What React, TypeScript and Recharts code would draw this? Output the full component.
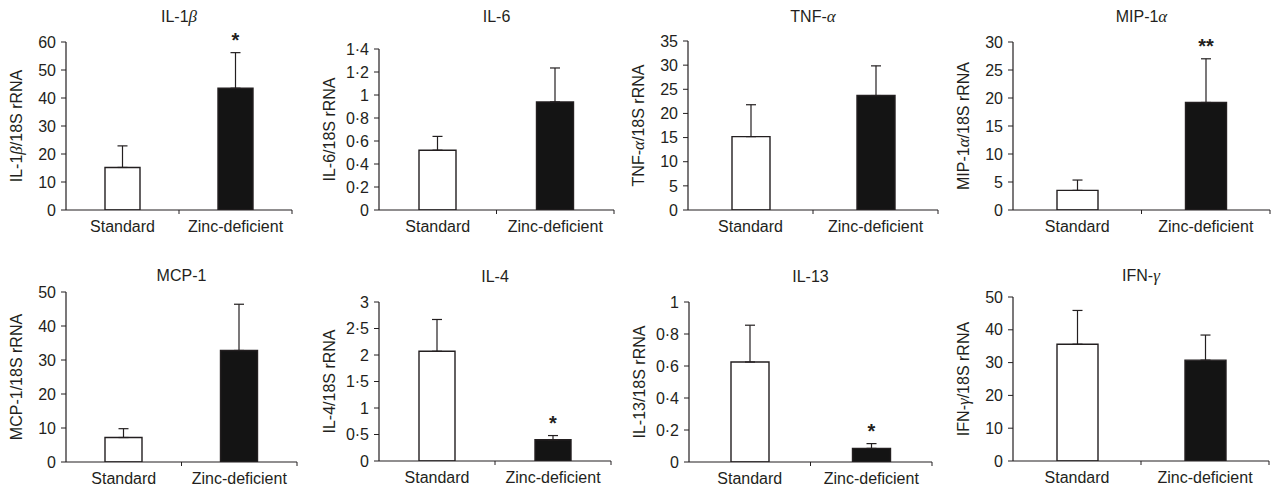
import React from "react";
import { Bar, BarChart, Cell, ErrorBar, LabelList, XAxis, YAxis } from "recharts";

// groups on the x axis (same for every panel)
const groups = ["Standard", "Zinc-deficient"];

// cytokine names (greek letters get set in italic)
const cytokines = ["IL-1β", "IL-6", "TNF-α", "MIP-1α", "MCP-1", "IL-4", "IL-13", "IFN-γ"];

// mean expression / 18S rRNA
const il1bMeans = [15.2, 43.5];
const il6Means = [0.52, 0.94];
const tnfaMeans = [15.2, 23.7];
const mip1aMeans = [3.5, 19.2];
const mcp1Means = [7.2, 32.8];
const il4Means = [2.07, 0.4];
const il13Means = [0.625, 0.085];
const ifngMeans = [35.6, 30.75];

// upper error (SEM)
const il1bErrors = [7.7, 12.7];
const il6Errors = [0.12, 0.295];
const tnfaErrors = [6.6, 6.15];
const mip1aErrors = [1.85, 7.8];
const mcp1Errors = [2.6, 13.6];
const il4Errors = [0.6, 0.08];
const il13Errors = [0.23, 0.03];
const ifngErrors = [10.3, 7.65];

// significance marks
const il1bStars = ["", "*"];
const mip1aStars = ["", "**"];
const il4Stars = ["", "*"];
const il13Stars = ["", "*"];
const noStars = ["", ""];

// y-axis ticks
const il1bTicks = [0, 10, 20, 30, 40, 50, 60];
const il6Ticks = [0, 0.2, 0.4, 0.6, 0.8, 1, 1.2, 1.4];
const tnfaTicks = [0, 5, 10, 15, 20, 25, 30, 35];
const mip1aTicks = [0, 5, 10, 15, 20, 25, 30];
const mcp1Ticks = [0, 10, 20, 30, 40, 50];
const il4Ticks = [0, 0.5, 1, 1.5, 2, 2.5, 3];
const il13Ticks = [0, 0.2, 0.4, 0.6, 0.8, 1];
const ifngTicks = [0, 10, 20, 30, 40, 50];

const panels = [
  { means: il1bMeans, errors: il1bErrors, stars: il1bStars, ticks: il1bTicks },
  { means: il6Means, errors: il6Errors, stars: noStars, ticks: il6Ticks },
  { means: tnfaMeans, errors: tnfaErrors, stars: noStars, ticks: tnfaTicks },
  { means: mip1aMeans, errors: mip1aErrors, stars: mip1aStars, ticks: mip1aTicks },
  { means: mcp1Means, errors: mcp1Errors, stars: noStars, ticks: mcp1Ticks },
  { means: il4Means, errors: il4Errors, stars: il4Stars, ticks: il4Ticks },
  { means: il13Means, errors: il13Errors, stars: il13Stars, ticks: il13Ticks },
  { means: ifngMeans, errors: ifngErrors, stars: noStars, ticks: ifngTicks },
];

// page placement of each plot box (axis x, right end, top tick, zero line)
const frames = [
  { axisX: 66, right: 292, top: 42, zero: 210, barSize: 35, titleY: 17 },
  { axisX: 379, right: 614, top: 49, zero: 210, barSize: 37, titleY: 17 },
  { axisX: 688, right: 938, top: 41, zero: 210, barSize: 38, titleY: 17 },
  { axisX: 1013, right: 1270, top: 42, zero: 210, barSize: 41, titleY: 17 },
  { axisX: 66, right: 297, top: 292, zero: 462, barSize: 37, titleY: 276 },
  { axisX: 379, right: 611, top: 302, zero: 461, barSize: 36, titleY: 277 },
  { axisX: 689, right: 932, top: 302, zero: 462, barSize: 38, titleY: 277 },
  { axisX: 1013, right: 1269, top: 297, zero: 461, barSize: 41, titleY: 276 },
];

const INK = "#231f20";
const FONT = '"Liberation Sans", Arial, Helvetica, sans-serif';
const GREEK = '"Liberation Serif", "Times New Roman", serif';
const FS = 16;
const barFills = ["#ffffff", "#141414"];

const fmt = (v: number) => String(v).replace(".", "·");

// split a name so greek letters can be italic
const pieces = (s: string) => s.split(/([αβγ])/).filter((p) => p.length > 0);

const SvgName = ({ text }: { text: string }) => (
  <>
    {pieces(text).map((p, i) =>
      /[αβγ]/.test(p) ? (
        <tspan key={i} fontFamily={GREEK} fontStyle="italic" fontSize={FS + 1}>
          {p}
        </tspan>
      ) : (
        <tspan key={i}>{p}</tspan>
      )
    )}
  </>
);

const HtmlName = ({ text }: { text: string }) => (
  <>
    {pieces(text).map((p, i) =>
      /[αβγ]/.test(p) ? (
        <span key={i} style={{ fontFamily: GREEK, fontStyle: "italic", fontSize: FS + 1 }}>
          {p}
        </span>
      ) : (
        <span key={i}>{p}</span>
      )
    )}
  </>
);

const YW = 60;
const XH = 30;
const MARGIN = { top: 30, right: 4, bottom: 0, left: 0 };

const CytokinePanel = ({ idx }: { idx: number }) => {
  const panel = panels[idx];
  const frame = frames[idx];
  const name = cytokines[idx];
  const plotW = frame.right - frame.axisX;
  const width = plotW + YW + MARGIN.right;
  const height = frame.zero - frame.top + MARGIN.top + XH;
  const rows = groups.map((g, i) => ({
    group: g,
    mean: panel.means[i],
    err: [0, panel.errors[i]],
    star: panel.stars[i],
  }));
  const halfBand = plotW / 4;

  const GroupTick = (p: any) => (
    <g>
      <line x1={p.x + halfBand} x2={p.x + halfBand} y1={p.y} y2={p.y + 4} stroke={INK} strokeWidth={1} />
      <text x={p.x} y={p.y + 22} textAnchor="middle" fill={INK} fontSize={FS} fontFamily={FONT}>
        {p.payload.value}
      </text>
    </g>
  );

  const renderStar = (p: any) => {
    const vb = p.viewBox ?? p;
    const x = vb.x ?? p.x;
    const y = vb.y ?? p.y;
    const w = vb.width ?? p.width;
    const h = vb.height ?? p.height;
    const i = p.index;
    const label = rows[i]?.star;
    if (!label) return null;
    const m = rows[i].mean;
    const perUnit = h / m;
    const errTop = y + h - (m + panel.errors[i]) * perUnit;
    return (
      <text
        x={x + w / 2}
        y={errTop - 6}
        textAnchor="middle"
        fill={INK}
        fontSize={20}
        fontWeight="bold"
        fontFamily={FONT}
      >
        {label}
      </text>
    );
  };

  const axisLabel = (p: any) => {
    const vb = p.viewBox;
    const cx = vb.x + vb.width - 50;
    const cy = vb.y + vb.height / 2;
    return (
      <text
        x={cx}
        y={cy}
        transform={`rotate(-90 ${cx} ${cy})`}
        textAnchor="middle"
        dominantBaseline="central"
        fill={INK}
        fontSize={FS}
        fontFamily={FONT}
      >
        <SvgName text={`${name}/18S rRNA`} />
      </text>
    );
  };

  return (
    <>
      <div
        style={{
          position: "absolute",
          left: frame.axisX,
          width: plotW,
          top: frame.titleY - 9,
          height: 18,
          lineHeight: "18px",
          textAlign: "center",
          fontSize: FS,
          color: INK,
          fontFamily: FONT,
          whiteSpace: "nowrap",
        }}
      >
        <HtmlName text={name} />
      </div>
      <div style={{ position: "absolute", left: frame.axisX - YW, top: frame.top - MARGIN.top, width, height }}>
        <BarChart width={width} height={height} data={rows} margin={MARGIN} barSize={frame.barSize}>
          <XAxis
            dataKey="group"
            height={XH}
            axisLine={{ stroke: INK, strokeWidth: 1.2 }}
            tickLine={false}
            tickSize={0}
            tickMargin={0}
            interval={0}
            tick={GroupTick}
          />
          <YAxis
            width={YW}
            domain={[0, panel.ticks[panel.ticks.length - 1]]}
            ticks={panel.ticks}
            interval={0}
            allowDataOverflow
            tickFormatter={fmt}
            axisLine={{ stroke: INK, strokeWidth: 1.2 }}
            tickLine={{ stroke: INK, strokeWidth: 1 }}
            tickSize={5}
            tickMargin={5}
            tick={{ fill: INK, fontSize: FS, fontFamily: FONT }}
            label={axisLabel}
          />
          <Bar dataKey="mean" stroke={INK} strokeWidth={1.4} isAnimationActive={false}>
            {rows.map((r, i) => (
              <Cell key={r.group} fill={barFills[i]} />
            ))}
            <ErrorBar dataKey="err" direction="y" width={5} stroke={INK} strokeWidth={1.2} isAnimationActive={false} />
            <LabelList dataKey="star" content={renderStar} />
          </Bar>
        </BarChart>
      </div>
    </>
  );
};

export default function App() {
  return (
    <div
      style={{
        position: "absolute",
        left: 0,
        top: 0,
        width: 1272,
        height: 490,
        background: "#ffffff",
        fontFamily: FONT,
        overflow: "hidden",
      }}
    >
      {panels.map((_, i) => (
        <CytokinePanel key={cytokines[i]} idx={i} />
      ))}
    </div>
  );
}
